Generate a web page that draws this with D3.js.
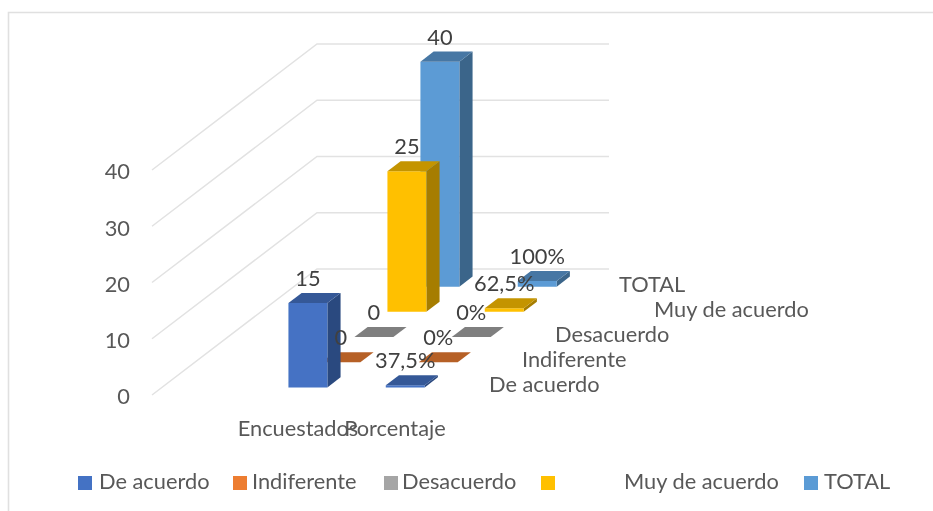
<!DOCTYPE html>
<html><head><meta charset="utf-8"><style>html,body{margin:0;background:#fff}svg{display:block}text{font-family:Lato,"Open Sans",sans-serif}</style>
<script src="https://cdn.jsdelivr.net/npm/d3@7"></script></head><body><div id="c"></div>
<script>
const categories=["","Encuestados","Porcentaje"];
const seriesNames=["De acuerdo","Indiferente","Desacuerdo","Muy de acuerdo","TOTAL"];
const colors=["#4472C4","#ED7D31","#A5A5A5","#FFC000","#5B9BD5"];
const encuestados=[15,0,0,25,40];
const porcentaje=[0.375,0,0,0.625,1];
const encuestadosLabels=["15","0","0","25","40"];
const porcentajeLabels=["37,5%","0%","0%","62,5%","100%"];
const yTicks=[0,10,20,30,40];
const W=933,H=511;
const svg=d3.select("#c").append("svg").attr("width",W).attr("height",H);
const defs=svg.append("defs");
defs.append("filter").attr("id","soft").append("feGaussianBlur").attr("stdDeviation",0.45);
defs.append("filter").attr("id","softText").attr("x","-10%").attr("y","-20%").attr("width","120%").attr("height","140%").append("feGaussianBlur").attr("stdDeviation",0.3);
// frame
svg.append("path").attr("d","M8.5,511V12.5H933").attr("fill","none").attr("stroke","#e0e0e0").attr("stroke-width",1.6);
// projection
const front={x:152,y:395},depthV={x:165,y:-126};
const xScale=d3.scaleBand().domain(categories).range([0,292]).paddingInner(0.6).paddingOuter(0.3);
const dScale=d3.scaleBand().domain(seriesNames).range([0,1]).paddingInner(0.6).paddingOuter(0.3);
const yScale=d3.scaleLinear().domain([0,40]).range([0,225]);
const P=(x,d,v)=>[front.x+x+d*depthV.x,front.y+d*depthV.y-yScale(v)];
const line=d3.line();
const g=svg.append("g").attr("filter","url(#soft)");
// gridlines
yTicks.forEach(t=>{
  g.append("path").attr("d",line([P(0,0,t),P(0,1,t),P(292,1,t)])).attr("fill","none").attr("stroke","#e2e2e2").attr("stroke-width",1.5);
});
const marks=g.append("g");
const dark=(c,k)=>{const r=d3.rgb(c);return d3.rgb(r.r*k,r.g*k,r.b*k).formatHex();};
const drawBar=(cat,si,v)=>{
  const n=seriesNames[si],c=colors[si];
  const x0=xScale(cat),x1=x0+xScale.bandwidth(),d0=dScale(n),d1=d0+dScale.bandwidth();
  const b=marks.append("g");
  if(v>0){
    b.append("path").attr("d",line([P(x1,d0,0),P(x1,d1,0),P(x1,d1,v),P(x1,d0,v)])+"Z").attr("fill",dark(c,0.65));
    b.append("path").attr("d",line([P(x0,d0,0),P(x1,d0,0),P(x1,d0,v),P(x0,d0,v)])+"Z").attr("fill",c);
  }
  b.append("path").attr("d",line([P(x0,d0,v),P(x1,d0,v),P(x1,d1,v),P(x0,d1,v)])+"Z").attr("fill",dark(c,0.77));
};
for(let s=4;s>=0;s--){drawBar(categories[1],s,encuestados[s]);drawBar(categories[2],s,porcentaje[s]);}
// text
const tg=svg.append("g").attr("filter","url(#softText)");
const text=(x,y,s,anchor,fill)=>tg.append("text").attr("x",x).attr("y",y).attr("text-anchor",anchor||"start").attr("dominant-baseline","central").attr("font-size",21.8).attr("fill",fill||"#595959").text(s);
yTicks.forEach(t=>{const p=P(0,0,t);text(p[0]-22,p[1]+0.8,t,"end");});
// data labels
const labelAt=(cat,si,v,lab)=>{
  const n=seriesNames[si];
  const p=P(xScale(cat)+xScale.bandwidth()/2,dScale(n),v);
  text(p[0]+0,p[1]-25.5,lab,"middle","#404040");
};
encuestados.forEach((v,i)=>labelAt(categories[1],i,v,encuestadosLabels[i]));
porcentaje.forEach((v,i)=>labelAt(categories[2],i,v,porcentajeLabels[i]));
// category labels (they overlap in the reference as well)
text(298,427,categories[1],"middle");
text(395,427,categories[2],"middle");
// series labels
const sLab=[[489,383.5],[522,358.5],[555,333.5],[654,308.5],[619,283]];
seriesNames.forEach((n,i)=>text(sLab[i][0],sLab[i][1],n));
// legend
const lg=[[78,99],[233,252],[384,402],[541,624],[804,824]];
seriesNames.forEach((n,i)=>{
  svg.append("rect").attr("x",lg[i][0]).attr("y",476).attr("width",14).attr("height",14).attr("fill",colors[i]);
  text(lg[i][1],480.5,n);
});
</script></body></html>
